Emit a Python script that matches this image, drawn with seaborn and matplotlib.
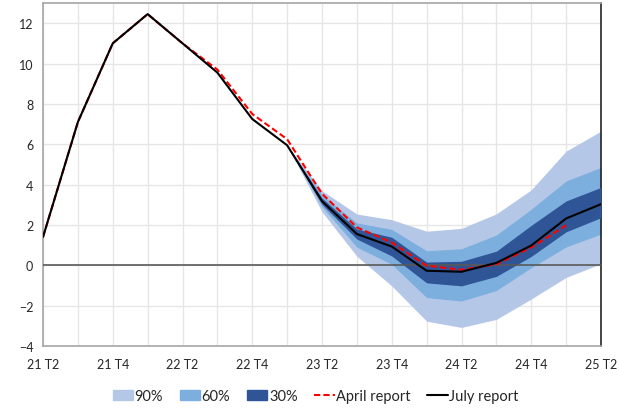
import numpy as np
import pandas as pd
import matplotlib
matplotlib.use("Agg")
import matplotlib.pyplot as plt
import seaborn as sns
from matplotlib.patches import Patch
from matplotlib.lines import Line2D

# ---- data ----
quarters = ["21 T2", "21 T3", "21 T4", "22 T1", "22 T2", "22 T3", "22 T4", "23 T1",
            "23 T2", "23 T3", "23 T4", "24 T1", "24 T2", "24 T3", "24 T4", "25 T1", "25 T2"]
july = [1.4, 7.1, 11.0, 12.45, 11.0, 9.55, 7.25, 5.95,
        3.18, 1.55, 0.93, -0.27, -0.32, 0.12, 0.98, 2.32, 3.03]
april = [1.4, 7.1, 11.0, 12.45, 11.0, 9.7, 7.5, 6.25,
         3.55, 1.88, 1.13, -0.02, -0.22, 0.05, 0.88, 1.98, None]
# fan chart bands (start at 23 T1)
band_quarters = quarters[7:]
b90_lo = [5.95, 2.65, 0.45, -1.02, -2.77, -3.08, -2.68, -1.67, -0.6, 0.08]
b90_hi = [5.95, 3.7, 2.54, 2.26, 1.69, 1.83, 2.55, 3.74, 5.66, 6.65]
b60_lo = [5.95, 2.9, 0.9, 0.05, -1.6, -1.77, -1.25, -0.12, 0.91, 1.55]
b60_hi = [5.95, 3.48, 2.1, 1.78, 0.72, 0.82, 1.5, 2.78, 4.18, 4.85]
b30_lo = [5.95, 3.02, 1.3, 0.46, -0.87, -1.02, -0.55, 0.44, 1.66, 2.36]
b30_hi = [5.95, 3.33, 1.8, 1.39, 0.16, 0.2, 0.7, 1.98, 3.19, 3.86]

c90, c60, c30 = "#B4C7E7", "#7CAFDD", "#2F5597"

sns.set_theme(style="white")
plt.rcParams["font.family"] = ["Lato", "DejaVu Sans"]

fig = plt.figure(figsize=(6.19, 4.10), dpi=100)
ax = fig.add_axes([43/619, 1-347/410, (601-43)/619, (347-4)/410])

xs = np.arange(len(quarters))
bx = np.arange(7, 7 + len(band_quarters))

ax.fill_between(bx, b90_lo, b90_hi, color=c90, lw=0, zorder=1)
ax.fill_between(bx, b60_lo, b60_hi, color=c60, lw=0, zorder=2)
ax.fill_between(bx, b30_lo, b30_hi, color=c30, lw=0, zorder=3)

ax.axhline(0, color="#595959", lw=1.2, zorder=4)

df = pd.DataFrame({"x": xs, "july": july,
                   "april": [np.nan if v is None else v for v in april]})
sns.lineplot(data=df, x="x", y="april", ax=ax, color="#FF0000", lw=1.5,
             linestyle=(0, (3, 1.5)), zorder=5)
sns.lineplot(data=df, x="x", y="july", ax=ax, color="black", lw=1.5, zorder=6)

ax.set_xlim(0, 16)
ax.set_ylim(-4, 13)
ax.set_xticks(xs[::2])
ax.set_xticklabels(quarters[::2])
ax.set_xticks(xs, minor=True)
ax.set_yticks(np.arange(-4, 13, 2))
ax.set_xlabel("")
ax.set_ylabel("")
ax.grid(True, which="both", axis="x", color="#E6E6E6", lw=1, zorder=0)
ax.grid(True, which="major", axis="y", color="#E6E6E6", lw=1, zorder=0)
ax.set_axisbelow(True)
ax.tick_params(axis="both", which="both", length=0, labelsize=9, colors="#262626")
ax.tick_params(axis="x", pad=9)
ax.tick_params(axis="y", pad=7)
for s in ["left", "bottom", "top"]:
    ax.spines[s].set_color("#A6A6A6")
    ax.spines[s].set_linewidth(1.2)
ax.spines["right"].set_color("#262626")
ax.spines["right"].set_linewidth(1.2)

handles = [Patch(color=c90, label="90%"), Patch(color=c60, label="60%"),
           Patch(color=c30, label="30%"),
           Line2D([], [], color="#FF0000", lw=1.5, linestyle=(0, (3, 1.5)), label="April report"),
           Line2D([], [], color="black", lw=1.5, label="July report")]
fig.legend(handles=handles, loc="center", bbox_to_anchor=(0.51, 1-397/410), ncol=5,
           frameon=False, fontsize=10.5, handlelength=1.4, handleheight=0.7,
           handletextpad=0.1, columnspacing=1.15, labelcolor="#262626")

fig.savefig("out.png", dpi=100)
